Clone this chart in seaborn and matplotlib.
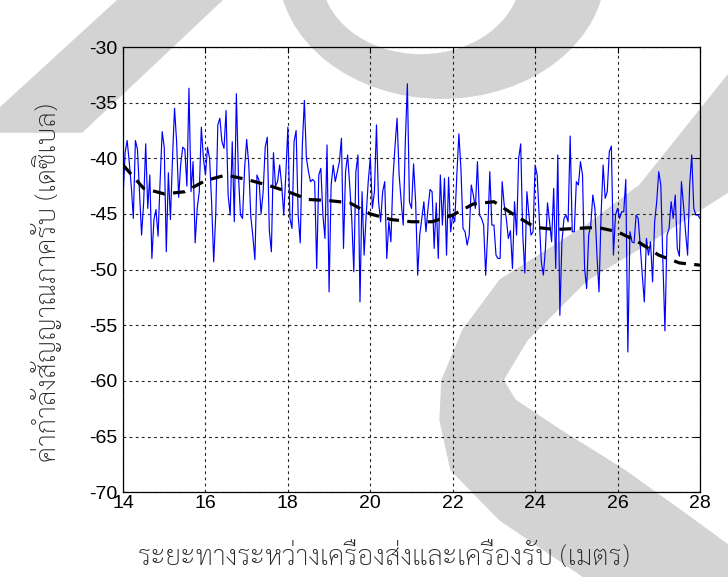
import numpy as np
import pandas as pd
import seaborn as sns
import matplotlib.pyplot as plt
from matplotlib import font_manager
from matplotlib.patches import Polygon, Circle

# received signal strength, one sample every 5 cm from 14 m to 28 m
rss_14 = [-43.5, -39.5, -38.4, -40.3, -42.5, -45.4, -38.4, -39.2, -43.0, -46.9,
          -44.0, -38.7, -44.5, -41.5, -49.0, -45.5, -44.6, -47.0, -42.0, -37.6]
rss_15 = [-39.0, -48.4, -41.3, -45.5, -40.0, -35.5, -38.5, -43.5, -40.5, -39.0,
          -39.2, -42.5, -33.7, -43.0, -40.3, -47.6, -44.5, -43.0, -37.2, -40.0]
rss_16 = [-41.5, -39.0, -40.0, -44.0, -49.3, -45.0, -37.0, -36.4, -38.5, -39.1,
          -35.7, -43.3, -45.1, -38.5, -45.7, -34.2, -41.5, -45.1, -45.4, -40.9]
rss_17 = [-38.3, -40.5, -45.2, -47.0, -49.1, -41.5, -42.0, -45.0, -43.0, -39.0,
          -38.1, -46.5, -48.4, -39.5, -42.5, -42.1, -40.6, -42.4, -45.1, -41.5]
rss_18 = [-37.2, -45.4, -46.3, -38.5, -37.5, -45.1, -47.6, -38.9, -34.8, -40.0,
          -41.2, -42.1, -41.9, -42.1, -49.9, -41.5, -40.9, -45.1, -47.2, -38.8]
rss_19 = [-52.0, -42.4, -40.6, -42.1, -41.2, -40.3, -38.2, -48.1, -41.2, -39.7,
          -42.4, -45.4, -50.2, -41.2, -39.7, -52.9, -43.0, -48.7, -45.1, -42.1]
rss_20 = [-39.9, -44.5, -43.0, -37.0, -43.9, -45.7, -43.0, -42.1, -49.0, -45.7,
          -47.5, -41.8, -38.9, -36.4, -41.5, -43.9, -46.0, -38.5, -33.3, -43.9]
rss_21 = [-44.5, -40.5, -43.9, -50.5, -46.9, -45.4, -43.9, -46.6, -44.5, -42.8,
          -43.0, -48.1, -44.0, -49.0, -41.5, -46.0, -41.8, -48.7, -41.7, -46.6]
rss_22 = [-45.1, -45.7, -41.5, -37.8, -41.0, -46.3, -46.6, -47.8, -46.9, -42.4,
          -43.3, -44.5, -40.3, -45.1, -45.4, -46.0, -50.5, -46.6, -41.2, -46.0]
rss_23 = [-46.0, -48.7, -49.0, -49.0, -42.1, -44.2, -45.4, -47.2, -46.5, -49.9,
          -43.9, -46.9, -40.0, -38.7, -46.9, -50.3, -43.0, -45.1, -46.9, -46.6]
rss_24 = [-40.6, -41.5, -45.4, -49.3, -50.5, -48.1, -44.0, -45.7, -47.5, -42.7,
          -49.9, -39.7, -54.1, -47.5, -45.4, -45.1, -45.7, -38.0, -46.6, -46.6]
rss_25 = [-42.1, -42.4, -40.3, -41.5, -49.9, -51.7, -46.9, -46.0, -43.3, -44.5,
          -48.7, -52.0, -45.1, -40.6, -43.6, -43.0, -39.4, -38.9, -48.7, -45.1]
rss_26 = [-44.5, -45.4, -44.8, -44.8, -41.9, -57.4, -46.6, -47.5, -47.6, -45.1,
          -45.4, -47.8, -50.5, -52.9, -47.2, -48.7, -47.5, -51.1, -45.7, -43.9]
rss_27 = [-41.2, -42.4, -49.3, -55.5, -46.9, -46.3, -43.9, -45.4, -43.3, -48.1,
          -48.8, -42.1, -44.2, -46.6, -48.7, -42.4, -39.7, -44.5, -45.1, -45.1]
rss_28 = [-45.4]

# smoothed trend, every 0.5 m
trend_distance = [14.0, 14.5, 15.0, 15.5, 16.0, 16.5, 17.0, 17.5, 18.0, 18.5,
                  19.0, 19.5, 20.0, 20.5, 21.0, 21.5, 22.0, 22.5, 23.0, 23.5,
                  24.0, 24.5, 25.0, 25.5, 26.0, 26.5, 27.0, 27.5, 28.0]
trend_rss = [-40.6, -42.7, -43.2, -43.0, -42.0, -41.5, -41.9, -42.4, -43.0, -43.7,
             -43.8, -44.0, -45.0, -45.5, -45.7, -45.7, -45.1, -44.1, -43.9, -45.1,
             -46.2, -46.4, -46.3, -46.2, -46.6, -47.5, -48.7, -49.4, -49.6]

x_ticks = [14, 16, 18, 20, 22, 24, 26, 28]
y_ticks = [-70, -65, -60, -55, -50, -45, -40, -35, -30]
x_label = "ระยะทางระหว่างเครื่องส่งและเครื่องรับ (เมตร)"
y_label = "ค่ากำลังสัญญาณภาครับ (เดซิเบล)"

rss = (rss_14 + rss_15 + rss_16 + rss_17 + rss_18 + rss_19 + rss_20 + rss_21
       + rss_22 + rss_23 + rss_24 + rss_25 + rss_26 + rss_27 + rss_28)
distance = np.round(np.arange(len(rss)) * 0.05 + 14.0, 2)
df = pd.DataFrame({"distance": distance, "rss": rss})
trend_df = pd.DataFrame({"distance": trend_distance, "rss": trend_rss})

# a looped Thai face, close to the one in the original
installed = {f.name for f in font_manager.fontManager.ttflist}
thai_font = next(p for p in ["Sarabun", "Noto Serif Thai", "Taviraj", "Loma"]
                 if p in installed)

sns.set_style("white")
plt.rcParams["font.family"] = ["Liberation Sans", "DejaVu Sans"]
plt.rcParams["axes.unicode_minus"] = False

W, H = 728, 577
fig = plt.figure(figsize=(W / 100, H / 100), dpi=100)


def px(points):
    # pixel coords (from top-left) -> figure fraction
    return [(x / W, 1 - y / H) for x, y in points]


# grey watermark strokes behind the plot
wm = "#d3d3d3"
fig.patches.append(Polygon(px([(118, 0), (222, 0), (82, 132), (0, 132), (0, 108)]),
                           closed=True, transform=fig.transFigure, color=wm, zorder=-5))
fig.patches.append(Circle((442 / W, 1 + 31 / H), 163 / W, transform=fig.transFigure,
                          color=wm, zorder=-5))
fig.patches.append(Circle((421 / W, 1 + 25 / H), 99 / W, transform=fig.transFigure,
                          color="white", zorder=-4))
fig.patches.append(Polygon(px([(728, 75), (640, 185), (587, 225), (500, 280), (463, 330),
                               (442, 380), (440, 420), (451, 470), (500, 520), (584, 577),
                               (728, 577), (728, 545), (680, 510), (624, 470), (560, 430),
                               (515, 400), (503, 380), (527, 340), (587, 280), (645, 245),
                               (728, 192)]),
                           closed=True, transform=fig.transFigure, color=wm, zorder=-5))

ax = fig.add_axes([0.169, 0.147, 0.7925, 0.7715])
ax.set_facecolor("none")

sns.lineplot(data=df, x="distance", y="rss", color="#0000ff", linewidth=0.85, ax=ax)
sns.lineplot(data=trend_df, x="distance", y="rss", color="black", linewidth=2.3,
             linestyle=(0, (3.8, 2.6)), ax=ax)

ax.set_xlim(14, 28)
ax.set_ylim(-70, -30)
ax.set_xticks(x_ticks)
ax.set_yticks(y_ticks)
ax.grid(True, color="#222222", linestyle=(0, (2.5, 3)), linewidth=0.8)
ax.tick_params(direction="in", length=4, width=0.8, labelsize=14, pad=4,
               top=True, right=True, colors="black")
ax.tick_params(axis="x", pad=2)
for side in ax.spines.values():
    side.set_color("black")
    side.set_linewidth(0.9)

ax.set_xlabel(x_label, fontsize=20, family=[thai_font, "DejaVu Sans"], fontweight="light")
ax.set_ylabel(y_label, fontsize=20, family=[thai_font, "DejaVu Sans"], fontweight="light")
ax.xaxis.set_label_coords(0.452, -0.115)
ax.yaxis.set_label_coords(-0.106, 0.47)

fig.savefig("out.png", dpi=100)
